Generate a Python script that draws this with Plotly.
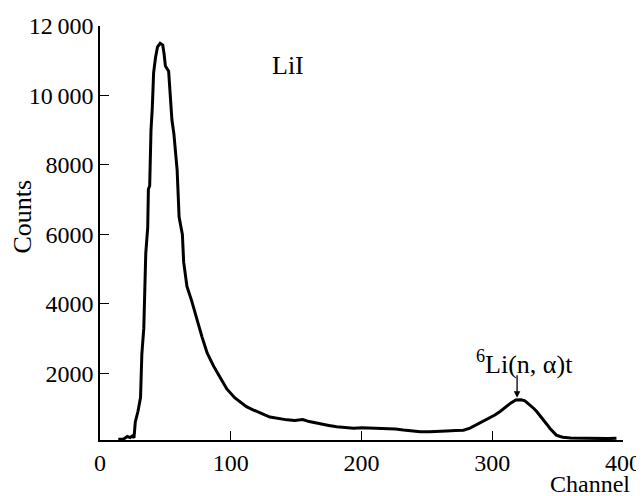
import plotly.graph_objects as go

channel = [14, 18, 21, 23, 25, 26, 27, 29, 31, 32, 33.5, 34, 35, 36.5, 37, 38, 39, 40, 41, 42.5,
           44, 46, 48, 49, 50, 52.5, 54, 55, 56.5, 58, 59, 60.5, 62, 63, 64, 66.5, 70, 74, 78, 82,
           87, 92, 97, 103, 108, 112, 117, 122, 126, 130, 136, 143, 149, 155, 160, 168, 175, 181,
           188, 194, 200, 207, 213, 219, 226, 232, 239, 245, 252, 258, 265, 272, 278, 283, 287,
           291, 295, 298, 302, 306, 310, 314, 318, 322, 325, 329, 332, 334, 337, 339, 342, 344,
           347, 349, 352, 354, 360, 367, 375, 380, 388, 395]
counts = [100, 110, 180, 150, 200, 140, 600, 900, 1300, 2550, 3300, 4450, 5450, 6200, 7300, 7400,
          9000, 9650, 10650, 11100, 11400, 11500, 11450, 11200, 10850, 10700, 9850, 9300, 8900,
          8300, 7850, 6500, 6150, 6000, 5200, 4500, 4100, 3550, 3050, 2580, 2200, 1870, 1550, 1300,
          1150, 1040, 950, 860, 800, 740, 700, 660, 640, 670, 610, 540, 500, 460, 440, 420, 430,
          420, 410, 420, 400, 370, 340, 320, 320, 320, 340, 350, 360, 420, 500, 570, 650, 710,
          800, 900, 1020, 1140, 1230, 1240, 1210, 1090, 980, 900, 770, 660, 520, 420, 300, 220,
          180, 160, 140, 130, 130, 130, 120, 130]

x_ticks = [0, 100, 200, 300, 400]
x_tick_labels = ["0", "100", "200", "300", "400"]
y_ticks = [2000, 4000, 6000, 8000, 10000, 12000]
y_tick_labels = ["2000", "4000", "6000", "8000", "10\u2009000", "12\u2009000"]

FONT = "Liberation Serif, Times New Roman, serif"

fig = go.Figure()
fig.add_trace(go.Scatter(x=channel, y=counts, mode="lines",
                         line=dict(color="black", width=3), showlegend=False))

fig.update_layout(
    width=644, height=496,
    margin=dict(l=92, r=29, t=18, b=64),
    paper_bgcolor="white", plot_bgcolor="white",
    font=dict(family=FONT, size=24, color="black"),
    xaxis=dict(range=[0, 400], tickvals=x_ticks, ticktext=x_tick_labels,
               ticks="inside", ticklen=9, tickwidth=1, tickcolor="black",
               showline=True, linecolor="black", linewidth=1.5, automargin=False,
               showgrid=False, zeroline=False, tickfont=dict(size=24)),
    yaxis=dict(range=[80, 12000], tickvals=y_ticks, ticktext=y_tick_labels,
               ticks="inside", ticklen=9, tickwidth=1, tickcolor="black",
               showline=True, linecolor="black", linewidth=1.5, automargin=False,
               showgrid=False, zeroline=False, tickfont=dict(size=24)),
    annotations=[
        dict(text="Counts", xref="paper", yref="paper", x=-0.149, y=0.54,
             textangle=-90, showarrow=False, font=dict(size=26),
             xanchor="center", yanchor="middle"),
        dict(text="Channel", xref="paper", yref="paper", x=1.018, y=-0.142,
             showarrow=False, font=dict(size=24), xanchor="right", yanchor="bottom"),
        dict(text="LiI", xref="paper", yref="paper", x=0.36, y=0.905,
             showarrow=False, font=dict(size=26), xanchor="center", yanchor="middle"),
        dict(text="<sup>6</sup>Li(n, α)t", x=325, y=2300, xref="x", yref="y",
             showarrow=False, font=dict(size=26), xanchor="center", yanchor="middle"),
        dict(text="", x=319, y=1300, xref="x", yref="y", showarrow=True,
             ax=0, ay=-24, arrowhead=2, arrowsize=1, arrowwidth=1.3, arrowcolor="black"),
    ],
)

fig.write_html("out.html")
